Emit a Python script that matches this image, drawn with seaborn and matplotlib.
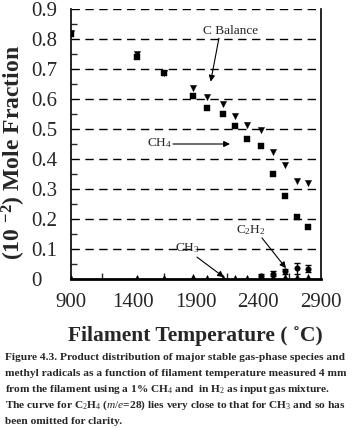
import matplotlib
matplotlib.use("Agg")
import matplotlib.pyplot as plt
import seaborn as sns
import pandas as pd
import numpy as np

# ---- data ----
temps = [900, 1433, 1649, 1881, 1990, 2121, 2217, 2313, 2425, 2521, 2617, 2708, 2801]
ch4 = [0.818, 0.742, 0.687, 0.610, 0.570, 0.550, 0.510, 0.467, 0.443, 0.350, 0.278, 0.209, 0.175]
c_balance = [0.822, 0.752, 0.688, 0.638, 0.607, 0.585, 0.544, 0.514, 0.498, 0.424, 0.381, 0.328, 0.321]
ch3 = [0.003, 0.004, 0.004, 0.007, 0.006, 0.005, 0.004, 0.004, 0.006, 0.008, 0.008, 0.008, 0.008]
c2h2_temps = [2425, 2521, 2617, 2708, 2801]
c2h2 = [0.012, 0.019, 0.027, 0.037, 0.036]
c2h2_err = [0.006, 0.008, 0.009, 0.018, 0.012]

x_ticks = [900, 1400, 1900, 2400, 2900]
y_ticks = [0, 0.1, 0.2, 0.3, 0.4, 0.5, 0.6, 0.7, 0.8, 0.9]
y_tick_labels = ["0", "0.1", "0.2", "0.3", "0.4", "0.5", "0.6", "0.7", "0.8", "0.9"]

caption_lines = [
    "Figure 4.3. Product distribution of major stable gas-phase species and",
    "methyl radicals as a function of filament temperature measured 4 mm",
    r"from the filament using a 1% CH$_4$ and  in H$_2$ as input gas mixture.",
    r"The curve for C$_2$H$_4$ ($m/e$=28) lies very close to that for CH$_3$ and so has",
    "been omitted for clarity.",
]

sns.set_style("white")
plt.rcParams["font.family"] = ["Liberation Serif", "DejaVu Serif"]
plt.rcParams["mathtext.fontset"] = "custom"
plt.rcParams["mathtext.rm"] = "Liberation Serif"
plt.rcParams["mathtext.it"] = "Liberation Serif:italic"
plt.rcParams["mathtext.bf"] = "Liberation Serif:bold"

df_main = pd.DataFrame({"T": temps, "CH4": ch4, "CB": c_balance, "CH3": ch3})
df_c2h2 = pd.DataFrame({"T": c2h2_temps, "C2H2": c2h2, "err": c2h2_err})

fig = plt.figure(figsize=(3.54, 4.29), dpi=100)
ax = fig.add_axes([70.7 / 354, 1 - 279.3 / 429, 250 / 354, 270 / 429])

# gridlines (dashed), including top at 0.9
for yv in y_ticks[1:]:
    ax.axhline(yv, color="black", lw=1.0, ls=(0, (6, 4)), zorder=1)

ax.errorbar(df_c2h2["T"], df_c2h2["C2H2"], yerr=df_c2h2["err"], fmt="none",
            ecolor="black", elinewidth=1.0, capsize=2.0, capthick=1.0, zorder=3)
sns.scatterplot(data=df_main, x="T", y="CB", marker="v", s=20, color="black",
                edgecolor="black", linewidth=0.3, ax=ax, zorder=4, clip_on=True)
sns.scatterplot(data=df_main, x="T", y="CH4", marker="s", s=19, color="black",
                edgecolor="black", linewidth=0.3, ax=ax, zorder=5, clip_on=True)
sns.scatterplot(data=df_main, x="T", y="CH3", marker="^", s=20, color="black",
                edgecolor="black", linewidth=0.3, ax=ax, zorder=4, clip_on=True)
sns.scatterplot(data=df_c2h2, x="T", y="C2H2", marker="o", s=16, color="black",
                edgecolor="black", linewidth=0.3, ax=ax, zorder=5, clip_on=True)

ax.set_xlim(900, 2900)
ax.set_ylim(0, 0.9)
ax.set_xticks(x_ticks)
ax.set_xticks(np.arange(900, 2901, 250), minor=True)
ax.set_yticks(y_ticks)
ax.set_yticklabels(y_tick_labels)
ax.set_yticks(np.arange(0, 0.91, 0.05), minor=True)
ax.tick_params(axis="both", which="major", direction="in", labelsize=15,
               color="black", left=True, bottom=True, right=False, top=False)
ax.tick_params(axis="both", which="minor", direction="in", length=4, width=1,
               left=True, bottom=True, right=False, top=False)
ax.tick_params(axis="y", which="major", length=0, pad=28.5)
ax.tick_params(axis="x", which="major", length=0, pad=10)
for lab in ax.get_yticklabels():
    lab.set_horizontalalignment("left")

ax.spines["top"].set_visible(False)
ax.spines["left"].set_linewidth(1.2)
ax.spines["right"].set_linewidth(1.2)
ax.spines["bottom"].set_linewidth(2.0)
for s in ["left", "right", "bottom"]:
    ax.spines[s].set_color("black")
ax.set_xlabel("")
ax.set_ylabel("")

# annotations
arrow = dict(arrowstyle="-|>", color="black", lw=0.8, mutation_scale=9, shrinkA=0, shrinkB=0)
ax.text(2176, 0.828, "C Balance", fontsize=9.5, ha="center", va="center")
ax.annotate("", xy=(2020, 0.659), xytext=(2086, 0.804), arrowprops=arrow)
ax.text(1614, 0.455, r"CH$_4$", fontsize=9.5, ha="center", va="center")
ax.annotate("", xy=(2174, 0.451), xytext=(1718, 0.451), arrowprops=arrow)
ax.text(1830, 0.104, r"CH$_3$", fontsize=9.5, ha="center", va="center")
ax.annotate("", xy=(2126, 0.007), xytext=(1910, 0.074), arrowprops=arrow)
ax.text(2342, 0.164, r"C$_2$H$_2$", fontsize=9.5, ha="center", va="center")
ax.annotate("", xy=(2622, 0.037), xytext=(2430, 0.138), arrowprops=arrow)

# axis titles
fig.text(14 / 354, 1 - 153 / 429, r"(10 $^{\mathbf{-2}}$) Mole Fraction", rotation=90,
         fontsize=17, fontweight="bold", ha="center", va="center")
fig.text(195 / 354, 1 - 336 / 429, "Filament Temperature ( \u02daC)",
         fontsize=15.5, fontweight="bold", ha="center", va="center")

# caption
y0 = 357
for i, line in enumerate(caption_lines):
    fig.text(5 / 354, 1 - (y0 + 16 * i) / 429, line, fontsize=8.2, fontweight="bold",
             ha="left", va="center")

fig.savefig("out.png", dpi=100)
